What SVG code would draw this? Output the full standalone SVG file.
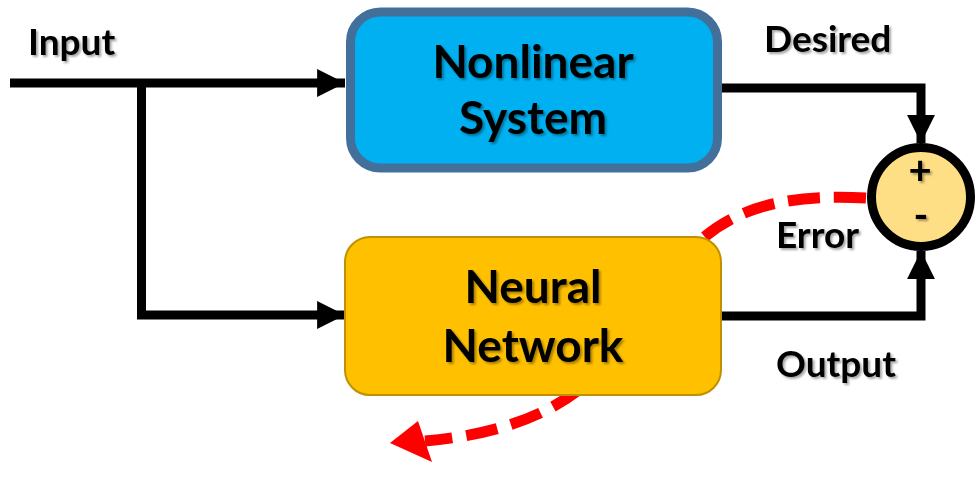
<svg xmlns="http://www.w3.org/2000/svg" width="976" height="484" viewBox="0 0 976 484">
<style>
.t{font-family:Lato,"Open Sans","Liberation Sans",sans-serif;font-weight:bold;fill:#000;filter:url(#sh)}
.big{font-size:46px;text-anchor:middle}
.lbl{font-size:37px}
.wire{fill:none;stroke:#000;stroke-width:9}
</style>
<defs>
<filter id="sh" x="-10%" y="-20%" width="130%" height="150%">
<feDropShadow dx="2" dy="2" stdDeviation="1.2" flood-color="#000" flood-opacity="0.35"/>
</filter>
<marker id="ah" viewBox="0 0 10 10" refX="10" refY="5" markerWidth="3.1" markerHeight="3.1" markerUnits="strokeWidth" orient="auto">
<path d="M0,0 L10,5 L0,10 Z" fill="#000"/>
</marker>
</defs>
<g id="connectors">
<path class="wire" d="M10,83 H345" marker-end="url(#ah)"/>
<path class="wire" d="M141.5,83 V315 H345" marker-end="url(#ah)"/>
<path class="wire" d="M722,88 H921 V143" marker-end="url(#ah)"/>
<path class="wire" d="M721,316 H921 V251" marker-end="url(#ah)"/>
<path d="M866,198 C585,182 720,415 425,441" fill="none" stroke="#FF0000" stroke-width="11" stroke-dasharray="32 14"/>
<polygon points="390,443 418,421 432,462" fill="#FF0000"/>
</g>
<g id="nonlinear">
<rect x="350.5" y="12" width="367" height="156" rx="30" fill="#00B0F0" stroke="#42709B" stroke-width="9"/>
<text class="t big" x="533" y="78">Nonlinear</text>
<text class="t big" x="533" y="134">System</text>
</g>
<g id="neural">
<rect x="345" y="237" width="376" height="158" rx="25" fill="#FFC000" stroke="#BF9000" stroke-width="2"/>
<text class="t big" x="533" y="303">Neural</text>
<text class="t big" x="533" y="362">Network</text>
</g>
<g id="sum">
<circle cx="921" cy="197" r="49.5" fill="#FFDF85" stroke="#000" stroke-width="9"/>
<text class="t" x="920" y="184" font-size="40" text-anchor="middle">+</text>
<text class="t" x="921" y="229" font-size="40" text-anchor="middle">-</text>
</g>
<g id="labels">
<text class="t lbl" x="28" y="55">Input</text>
<text class="t lbl" x="764" y="52">Desired</text>
<text class="t lbl" x="776" y="248">Error</text>
<text class="t lbl" x="776" y="377">Output</text>
</g>
</svg>
